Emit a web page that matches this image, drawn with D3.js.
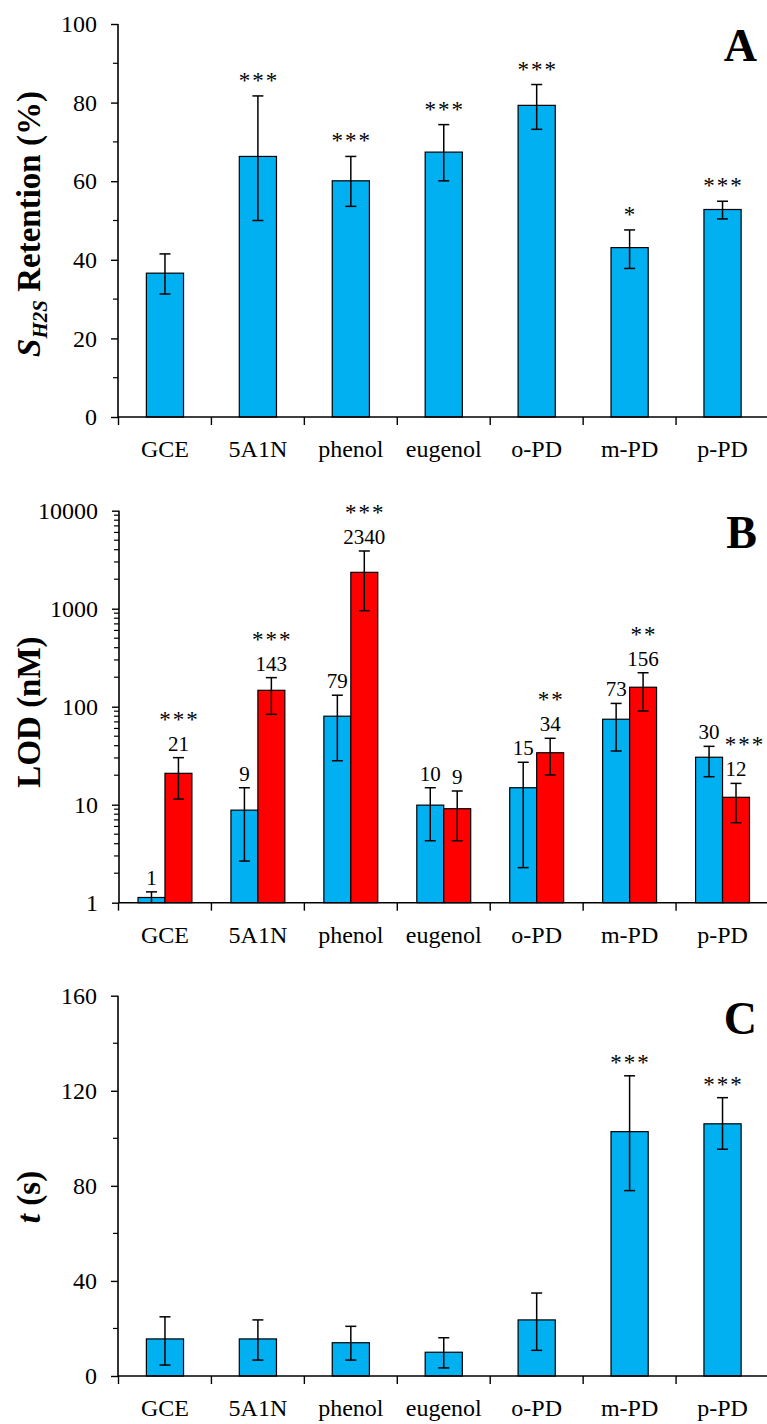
<!DOCTYPE html>
<html>
<head>
<meta charset="utf-8">
<script src="https://cdn.jsdelivr.net/npm/d3@7"></script>
<style>
  body { margin: 0; background: #fff; }
  svg { display: block; }
  text { font-family: "Liberation Serif", "Times New Roman", serif; fill: #000; }
</style>
</head>
<body>
<svg id="chart" width="767" height="1424"></svg>
<script>
// ---------- data ----------
const categories = ["GCE", "5A1N", "phenol", "eugenol", "o-PD", "m-PD", "p-PD"];

// Panel A: S_H2S retention (%)
const retention    = [36.6, 66.3, 60.1, 67.4, 79.3, 43.1, 52.8];
const retentionHi  = [41.5, 81.7, 66.3, 74.4, 84.6, 47.6, 54.9];
const retentionLo  = [31.3, 50.0, 53.6, 60.1, 73.2, 37.8, 50.4];
const retentionSig = ["", "***", "***", "***", "***", "*", "***"];
const retentionTicks = [0, 20, 40, 60, 80, 100];

// Panel B: LOD (nM), log scale
const lodBlue       = [1.13, 8.8, 80, 9.9, 14.9, 74.5, 30.5];
const lodBlueHi     = [1.29, 14.9, 131, 14.9, 27.1, 108, 39.4];
const lodBlueLo     = [0.9, 2.66, 28.1, 4.29, 2.28, 35.3, 19.3];
const lodBlueLabels = ["1", "9", "79", "10", "15", "73", "30"];
const lodRed        = [20.9, 147, 2350, 9.1, 33.9, 158, 11.9];
const lodRedHi      = [30.2, 198, 3880, 13.8, 47.6, 222, 16.5];
const lodRedLo      = [11.4, 83.6, 955, 4.29, 20.1, 90.4, 6.55];
const lodRedLabels  = ["21", "143", "2340", "9", "34", "156", "12"];
const lodRedSig     = ["***", "***", "***", "", "**", "**", "***"];
const lodTicks = [1, 10, 100, 1000, 10000];

// Panel C: t (s)
const timeVals = [15.6, 15.6, 14.0, 10.0, 23.6, 102.8, 106.1];
const timeHi   = [24.9, 23.6, 20.9, 16.1, 34.9, 126.3, 117.1];
const timeLo   = [4.6, 6.7, 6.7, 3.4, 10.8, 78.0, 95.4];
const timeSig  = ["", "", "", "", "", "***", "***"];
const timeTicks = [0, 40, 80, 120, 160];

// ---------- styles ----------
const BLUE = "#00B0F0", RED = "#FF0000";
const svg = d3.select("#chart");

const x = d3.scaleBand().domain(categories).range([118.5, 769]).paddingInner(0).paddingOuter(0);
const bw = x.bandwidth();

function stars(g, cx, baseline, s) {
  g.append("text").attr("x", cx + 1).attr("y", baseline)
    .attr("text-anchor", "middle").attr("font-size", 23)
    .attr("letter-spacing", 2).text(s);
}

function xAxisAndFrame(g, y0, yTop, axisX) {
  g.append("line").attr("x1", axisX).attr("x2", axisX).attr("y1", yTop).attr("y2", y0)
    .attr("stroke", "#000").attr("stroke-width", 1.6);
  g.append("line").attr("x1", axisX).attr("x2", 767).attr("y1", y0).attr("y2", y0)
    .attr("stroke", "#000").attr("stroke-width", 1.6);
  const bounds = categories.map(c => x(c)).concat([x(categories[categories.length - 1]) + bw]);
  g.selectAll(".cb").data(bounds).join("line")
    .attr("x1", d => d).attr("x2", d => d).attr("y1", y0).attr("y2", y0 + 8)
    .attr("stroke", "#000").attr("stroke-width", 1.4);
  g.selectAll(".cl").data(categories).join("text")
    .attr("x", d => x(d) + bw / 2).attr("y", y0 + 40)
    .attr("text-anchor", "middle").attr("font-size", 24).text(d => d);
}

function yAxis(g, scale, ticks, minors, axisX, fmt) {
  const ax = d3.axisLeft(scale).tickValues(ticks).tickSize(7).tickPadding(14).tickFormat(fmt);
  const ga = g.append("g").attr("transform", `translate(${axisX},0)`).call(ax);
  ga.select(".domain").remove();
  ga.selectAll(".tick line").attr("stroke", "#000").attr("stroke-width", 1.4);
  ga.selectAll(".tick text").attr("font-size", 24).attr("font-family", "Liberation Serif, serif").attr("fill", "#000");
  g.selectAll(".minor").data(minors).join("line")
    .attr("x1", axisX - 5).attr("x2", axisX).attr("y1", d => scale(d)).attr("y2", d => scale(d))
    .attr("stroke", "#000").attr("stroke-width", 1.2);
}

function errorBar(g, cx, yHi, yLo, lowerCap = true) {
  g.append("line").attr("x1", cx).attr("x2", cx).attr("y1", yHi).attr("y2", yLo)
    .attr("stroke", "#000").attr("stroke-width", 1.5);
  (lowerCap ? [yHi, yLo] : [yHi]).forEach(yy => {
    g.append("line").attr("x1", cx - 5.5).attr("x2", cx + 5.5).attr("y1", yy).attr("y2", yy)
      .attr("stroke", "#000").attr("stroke-width", 1.5);
  });
}

function panelLetter(g, letter, baseline) {
  g.append("text").attr("x", 757).attr("y", baseline).attr("text-anchor", "end")
    .attr("font-size", 46).attr("font-weight", "bold").text(letter);
}

// ---------- Panel A ----------
(function () {
  const g = svg.append("g");
  const y = d3.scaleLinear().domain([0, 100]).range([417, 24]);
  const ax = 118;
  yAxis(g, y, retentionTicks, [10, 30, 50, 70, 90], ax, d3.format("d"));
  const w = bw * 0.4;
  categories.forEach((c, i) => {
    const cx = x(c) + bw / 2;
    g.append("rect").attr("x", cx - w / 2).attr("y", y(retention[i]))
      .attr("width", w).attr("height", y(0) - y(retention[i]))
      .attr("fill", BLUE).attr("stroke", "#000").attr("stroke-width", 1.2);
    errorBar(g, cx, y(retentionHi[i]), y(retentionLo[i]));
    if (retentionSig[i]) stars(g, cx, y(retentionHi[i]) - 8, retentionSig[i]);
  });
  xAxisAndFrame(g, 417, 24, ax);
  const t = g.append("text").attr("transform", "translate(40,224) rotate(-90)")
    .attr("text-anchor", "middle").attr("font-weight", "bold").attr("font-size", 33);
  t.append("tspan").attr("font-style", "italic").text("S");
  t.append("tspan").attr("font-style", "italic").attr("font-size", 21).attr("dy", 7).text("H2S");
  t.append("tspan").attr("dy", -7).text(" Retention (%)");
  panelLetter(g, "A", 61);
})();

// ---------- Panel B ----------
(function () {
  const g = svg.append("g");
  const y = d3.scaleLog().domain([1, 10000]).range([902.7, 510.7]);
  const ax = 119;
  const minors = [];
  [1, 10, 100, 1000].forEach(d => { for (let k = 2; k <= 9; k++) minors.push(d * k); });
  yAxis(g, y, lodTicks, minors, ax, d3.format("d"));
  const w = bw * 0.29;
  categories.forEach((c, i) => {
    const cx = x(c) + bw / 2;
    const bx = cx - w / 2, rx = cx + w / 2;
    g.append("rect").attr("x", cx - w).attr("y", y(lodBlue[i]))
      .attr("width", w).attr("height", y(1) - y(lodBlue[i]))
      .attr("fill", BLUE).attr("stroke", "#000").attr("stroke-width", 1.2);
    g.append("rect").attr("x", cx).attr("y", y(lodRed[i]))
      .attr("width", w).attr("height", y(1) - y(lodRed[i]))
      .attr("fill", RED).attr("stroke", "#000").attr("stroke-width", 1.2);
    const bl = lodBlueLo[i] >= 1;
    errorBar(g, bx, y(lodBlueHi[i]), y(Math.max(lodBlueLo[i], 1)), bl);
    const rl = lodRedLo[i] >= 1;
    errorBar(g, rx, y(lodRedHi[i]), y(Math.max(lodRedLo[i], 1)), rl);
    const bBase = y(lodBlueHi[i]) - 7;
    const rBase = y(lodRedHi[i]) - 7;
    g.append("text").attr("x", bx).attr("y", bBase).attr("text-anchor", "middle")
      .attr("font-size", 21).text(lodBlueLabels[i]);
    g.append("text").attr("x", rx).attr("y", rBase).attr("text-anchor", "middle")
      .attr("font-size", 21).text(lodRedLabels[i]);
    if (lodRedSig[i]) {
      const last = i === categories.length - 1;
      stars(g, rx + (last ? 8 : 0), rBase - 24, lodRedSig[i]);
    }
  });
  xAxisAndFrame(g, 902.7, 510.7, ax);
  g.append("text").attr("transform", "translate(40,712) rotate(-90)")
    .attr("text-anchor", "middle").attr("font-weight", "bold").attr("font-size", 33).text("LOD (nM)");
  panelLetter(g, "B", 548);
})();

// ---------- Panel C ----------
(function () {
  const g = svg.append("g");
  const y = d3.scaleLinear().domain([0, 160]).range([1376, 995.7]);
  const ax = 118;
  yAxis(g, y, timeTicks, [20, 60, 100, 140], ax, d3.format("d"));
  const w = bw * 0.4;
  categories.forEach((c, i) => {
    const cx = x(c) + bw / 2;
    g.append("rect").attr("x", cx - w / 2).attr("y", y(timeVals[i]))
      .attr("width", w).attr("height", y(0) - y(timeVals[i]))
      .attr("fill", BLUE).attr("stroke", "#000").attr("stroke-width", 1.2);
    errorBar(g, cx, y(timeHi[i]), y(timeLo[i]));
    if (timeSig[i]) stars(g, cx, y(timeHi[i]) - 6, timeSig[i]);
  });
  xAxisAndFrame(g, 1376, 995.7, ax);
  const t = g.append("text").attr("transform", "translate(40,1197) rotate(-90)")
    .attr("text-anchor", "middle").attr("font-weight", "bold").attr("font-size", 33);
  t.append("tspan").attr("font-style", "italic").text("t");
  t.append("tspan").text(" (s)");
  panelLetter(g, "C", 1034);
})();
</script>
</body>
</html>
